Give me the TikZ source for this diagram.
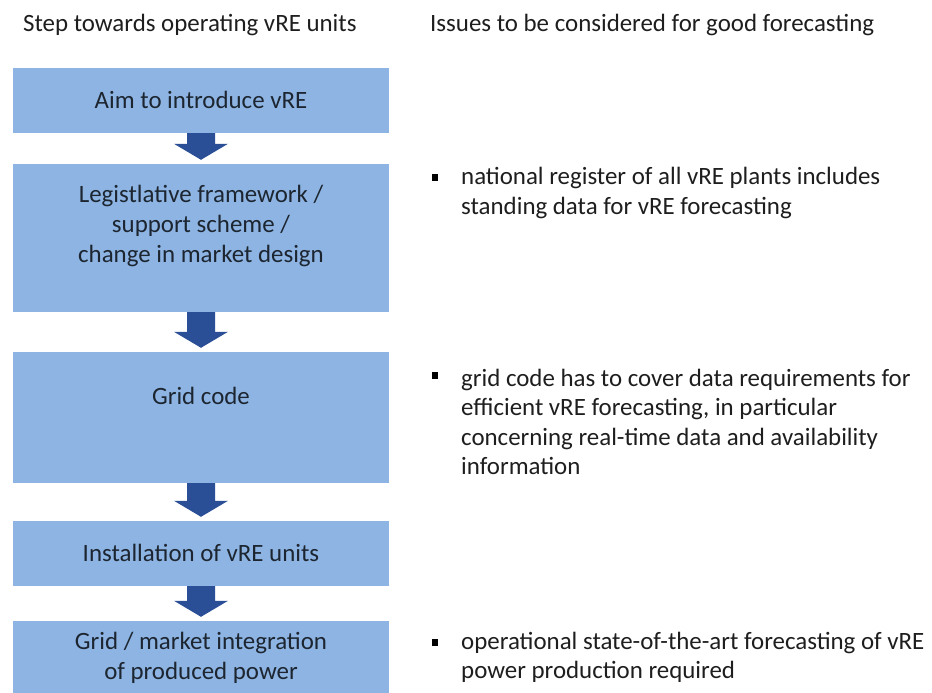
\documentclass[tikz,border=0pt]{standalone}
\usepackage{fontspec}
\setmainfont{Carlito}
\usetikzlibrary{calc}
\definecolor{boxfill}{HTML}{8DB4E2}
\definecolor{arrowc}{HTML}{2B4F96}
\definecolor{txt}{HTML}{1E1E1E}
\definecolor{boxtxt}{HTML}{1C2530}
\tikzset{
  x=1bp, y=-1bp,
  stepbox/.style={rectangle, fill=boxfill, draw=none, minimum width=376bp, inner sep=0pt},
  boxtext/.style={align=center, text=boxtxt, font=\fontsize{25}{30}\selectfont, inner sep=0pt},
  hdr/.style={anchor=west, text=txt, font=\fontsize{25}{30}\selectfont, inner sep=0pt},
  itemtext/.style={anchor=west, align=left, text=txt, font=\fontsize{25}{29.5}\selectfont, inner sep=0pt},
  bulletsq/.style={rectangle, fill=black, minimum size=6.5bp, inner sep=0pt},
}
\newcommand\flowarrow[2]{%
  \fill[arrowc] let \p1=(#1.south), \p2=(#2.north) in
    (\x1-14bp,\y1) -- (\x1+14bp,\y1) -- (\x1+14bp,\y2+20bp) -- (\x1+27bp,\y2+20bp)
    -- (\x1,\y2+4bp) -- (\x1-27bp,\y2+20bp) -- (\x1-14bp,\y2+20bp) -- cycle;}
\begin{document}
\begin{tikzpicture}
\clip (0,0) rectangle (932,693);
\fill[white] (0,0) rectangle (932,693);
% headers
\node[hdr] (h1) at (23,25) {Step towards operating vRE units};
\node[hdr] (h2) at (430,25) {Issues to be considered for good forecasting};
% boxes
\node[stepbox, minimum height=65bp] (b1) at (201,100.5) {};
\node[stepbox, minimum height=148bp] (b2) at (201,238) {};
\node[stepbox, minimum height=131bp] (b3) at (201,417.5) {};
\node[stepbox, minimum height=65bp] (b4) at (201,553.5) {};
\node[stepbox, minimum height=80bp] (b5) at (201,661) {};
% box texts
\node[boxtext] (t1) at (201,100) {Aim to introduce vRE};
\node[boxtext] (t2) at (201,226) {Legistlative framework /\\support scheme /\\change in market design};
\node[boxtext] (t3) at (201,396) {Grid code};
\node[boxtext] (t4) at (201,553) {Installation of vRE units};
\node[boxtext] (t5) at (201,657.5) {Grid / market integration\\of produced power};
% arrows
\flowarrow{b1}{b2}
\flowarrow{b2}{b3}
\flowarrow{b3}{b4}
\flowarrow{b4}{b5}
% issues
\node[bulletsq] (s1) at (435,177.5) {};
\node[itemtext] (i1) at (461,193) {national register of all vRE plants includes\\standing data for vRE forecasting};
\node[bulletsq] (s2) at (435,375.5) {};
\node[itemtext] (i2) at (461,422) {grid code has to cover data requirements for\\efficient vRE forecasting, in particular\\concerning real-time data and availability\\information};
\node[bulletsq] (s3) at (435,642.5) {};
\node[itemtext] (i3) at (461,657.5) {operational state-of-the-art forecasting of vRE\\power production required};
\end{tikzpicture}
\end{document}
